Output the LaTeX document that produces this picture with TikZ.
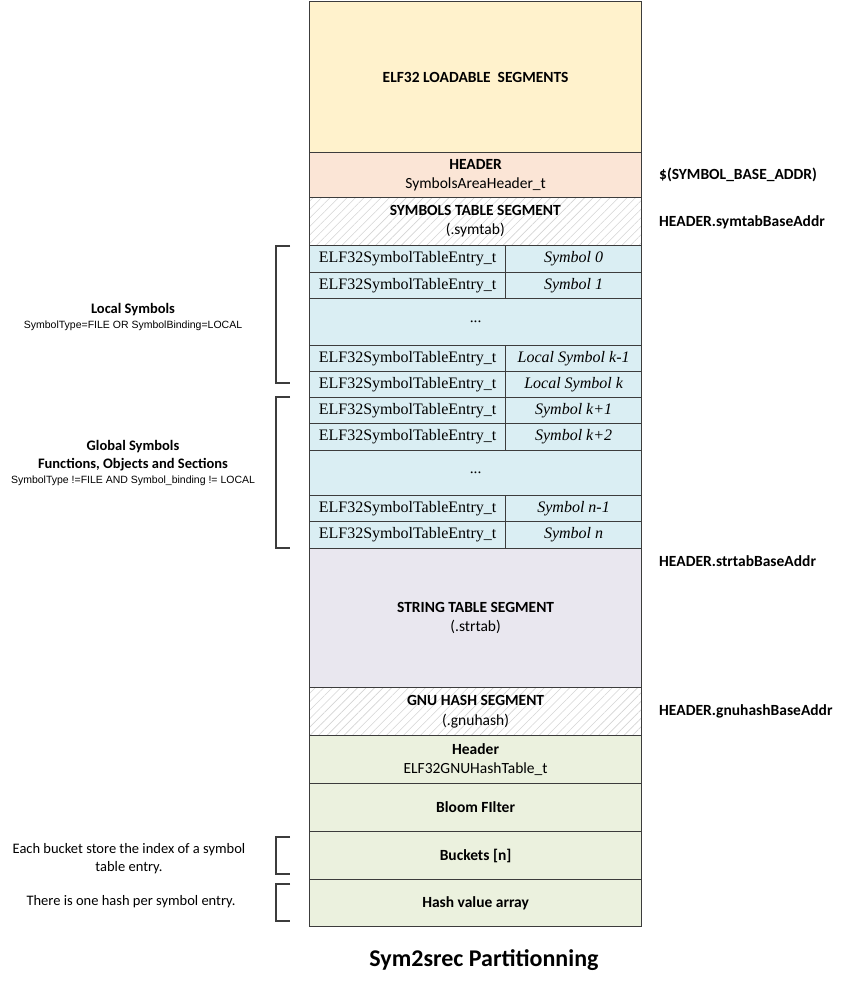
\documentclass[tikz,border=0pt]{standalone}
\usepackage{fontspec}
\setmainfont{Carlito}
\newfontfamily\tnr{Liberation Serif}
\newfontfamily\arialf{Liberation Sans}
\usetikzlibrary{patterns.meta}
\definecolor{cload}{HTML}{FFF2CC}
\definecolor{chead}{HTML}{FBE5D6}
\definecolor{csym}{HTML}{DAEEF3}
\definecolor{cstr}{HTML}{E9E7EF}
\definecolor{cgnu}{HTML}{EBF1DE}
\definecolor{cline}{HTML}{3C3C3C}
\definecolor{chatch}{HTML}{D4D4D4}
\newcommand{\smallarial}{\arialf\fontsize{10.5}{13}\selectfont}
\begin{document}
\begin{tikzpicture}[x=1pt,y=-1pt,
  seg/.style={draw=cline, line width=1.2pt, anchor=north west, minimum width=332pt,
    inner sep=0pt, align=center, font=\fontsize{15.5}{19.5}\selectfont},
  hatched/.style={seg, pattern={Lines[angle=45,distance=6pt,line width=0.6pt]}, pattern color=chatch},
  entry/.style={draw=cline, line width=1.2pt, anchor=north west, minimum width=196pt,
    inner sep=0pt, fill=csym, font=\tnr\fontsize{16}{18}\selectfont},
  symname/.style={draw=cline, line width=1.2pt, anchor=north west, minimum width=136pt,
    inner sep=0pt, fill=csym, font=\tnr\itshape\fontsize{16}{18}\selectfont},
  addr/.style={anchor=west, inner sep=0pt, font=\bfseries\fontsize{15.5}{19}\selectfont},
  side/.style={align=center, inner sep=0pt, font=\fontsize{14.5}{18}\selectfont},
  brk/.style={draw=cline, line width=1.1pt}
]
\useasboundingbox (0,0) rectangle (846,986);

% main column
\node[seg, fill=cload, minimum height=151pt] (load) at (309,1) {\bfseries ELF32 LOADABLE\ \ SEGMENTS};
\node[seg, fill=chead, minimum height=45pt] (head) at (309,152) {\textbf{HEADER}\\SymbolsAreaHeader\_t};
\node[hatched, minimum height=48pt] (symseg) at (309,197) {\textbf{SYMBOLS TABLE SEGMENT}\\(.symtab)};

\node[entry, minimum height=27pt] (e0) at (309,245) {ELF32SymbolTableEntry\_t};
\node[symname, minimum height=27pt] (n0) at (505,245) {Symbol 0};
\node[entry, minimum height=26pt] (e1) at (309,272) {ELF32SymbolTableEntry\_t};
\node[symname, minimum height=26pt] (n1) at (505,272) {Symbol 1};
\node[seg, fill=csym, minimum height=47pt, font=\tnr\fontsize{15.5}{18}\selectfont] (d1) at (309,298) {...};
\node[entry, minimum height=26pt] (ekm) at (309,345) {ELF32SymbolTableEntry\_t};
\node[symname, minimum height=26pt] (nkm) at (505,345) {Local Symbol k-1};
\node[entry, minimum height=26pt] (ek) at (309,371) {ELF32SymbolTableEntry\_t};
\node[symname, minimum height=26pt] (nk) at (505,371) {Local Symbol k};
\node[entry, minimum height=26pt] (ekp) at (309,397) {ELF32SymbolTableEntry\_t};
\node[symname, minimum height=26pt] (nkp) at (505,397) {Symbol k+1};
\node[entry, minimum height=27pt] (ekq) at (309,423) {ELF32SymbolTableEntry\_t};
\node[symname, minimum height=27pt] (nkq) at (505,423) {Symbol k+2};
\node[seg, fill=csym, minimum height=45pt, font=\tnr\fontsize{15.5}{18}\selectfont] (d2) at (309,450) {...};
\node[entry, minimum height=26pt] (enm) at (309,495) {ELF32SymbolTableEntry\_t};
\node[symname, minimum height=26pt] (nnm) at (505,495) {Symbol n-1};
\node[entry, minimum height=27pt] (en) at (309,521) {ELF32SymbolTableEntry\_t};
\node[symname, minimum height=27pt] (nn) at (505,521) {Symbol n};

\node[seg, fill=cstr, minimum height=139pt] (str) at (309,548) {\textbf{STRING TABLE SEGMENT}\\(.strtab)};
\node[hatched, minimum height=48pt] (gnu) at (309,687) {\textbf{GNU HASH SEGMENT}\\(.gnuhash)};
\node[seg, fill=cgnu, minimum height=48pt] (gh) at (309,735) {\textbf{Header}\\ELF32GNUHashTable\_t};
\node[seg, fill=cgnu, minimum height=48pt] (bloom) at (309,783) {\textbf{Bloom FIlter}};
\node[seg, fill=cgnu, minimum height=48pt] (buck) at (309,831) {\textbf{Buckets [n]}};
\node[seg, fill=cgnu, minimum height=47pt] (hash) at (309,879) {\textbf{Hash value array}};

% address labels
\node[addr] (a1) at (659,175) {\$(SYMBOL\_BASE\_ADDR)};
\node[addr] (a2) at (659,222) {HEADER.symtabBaseAddr};
\node[addr] (a3) at (659,561) {HEADER.strtabBaseAddr};
\node[addr] (a4) at (659,711) {HEADER.gnuhashBaseAddr};

% brackets
\draw[brk] (290,246) -- (276,246) -- (276,383) -- (290,383);
\draw[brk] (290,397) -- (276,397) -- (276,548) -- (290,548);
\draw[brk] (290,837) -- (276,837) -- (276,874) -- (290,874);
\draw[brk] (290,884) -- (276,884) -- (276,921) -- (290,921);

% side labels
\node[side] (loc) at (133,317) {\textbf{Local Symbols}\\[-3pt]{\smallarial SymbolType=FILE OR SymbolBinding=LOCAL}};
\node[side] (glob) at (133,463) {\textbf{Global Symbols}\\\textbf{Functions, Objects and Sections}\\[-3pt]{\smallarial SymbolType !=FILE AND Symbol\_binding != LOCAL}};
\node[side] (bnote) at (129,859) {Each bucket store the index of a symbol\\table entry.};
\node[side] (hnote) at (131,902) {There is one hash per symbol entry.};

% title
\node[font=\bfseries\fontsize{24}{28}\selectfont] (title) at (484,960) {Sym2srec Partitionning};
\end{tikzpicture}
\end{document}
